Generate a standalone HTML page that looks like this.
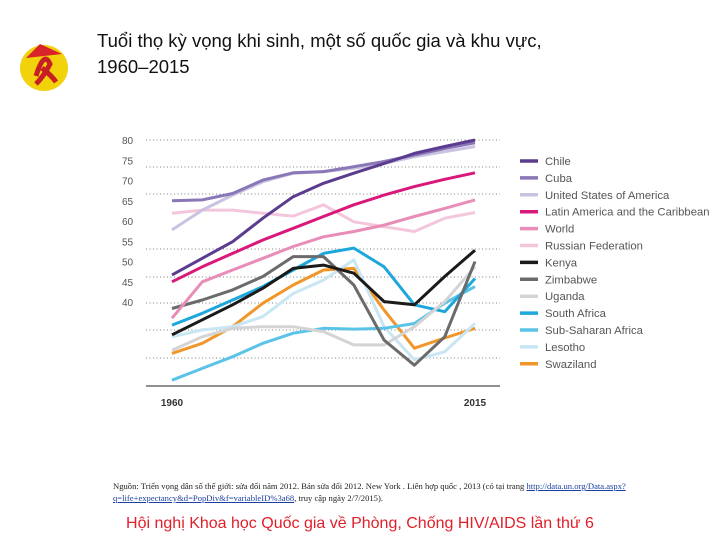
<!DOCTYPE html>
<html><head><meta charset="utf-8"><style>
body{margin:0;width:720px;height:540px;background:#fff;position:relative;overflow:hidden;font-family:"Liberation Sans",sans-serif}
#title{position:absolute;left:97px;top:28px;font-size:18.5px;line-height:26px;color:#111}
#src{position:absolute;left:113px;top:480px;font-family:"Liberation Serif",serif;font-size:8.6px;line-height:12px;color:#222;width:540px}
#src a{color:#1a3fa0;text-decoration:underline}
#foot{position:absolute;left:0;width:720px;top:515px;text-align:center;font-size:16px;color:#e0202a}
</style></head><body>
<svg style="position:absolute;left:0;top:20px" width="100" height="80">
<ellipse cx="44" cy="48" rx="24" ry="23" fill="#f2d20a"/>
<path d="M26 38 L40 24 L62 34 Z" fill="#d8232a"/>
<path d="M36 56 Q44 30 50 44 Q44 56 36 64 M42 48 Q52 56 56 62" stroke="#c81e25" stroke-width="5" fill="none"/>
</svg>
<div id="title">Tuổi thọ kỳ vọng khi sinh, một số quốc gia và khu vực,<br>1960–2015</div>
<svg id="chart" style="position:absolute;left:0;top:0" width="720" height="470"></svg>
<div id="src">Nguồn: Triển vọng dân số thế giới: sửa đổi năm 2012. Bản sửa đổi 2012. New York . Liên hợp quốc , 2013 (có tại trang <a>http://data.un.org/Data.aspx?q=life+expectancy&amp;d=PopDiv&amp;f=variableID%3a68</a>, truy cập ngày 2/7/2015).</div>
<div id="foot">Hội nghị Khoa học Quốc gia về Phòng, Chống HIV/AIDS lần thứ 6</div>
<script>
const seriesNames=["Chile","Cuba","United States of America","Latin America and the Caribbean","World","Russian Federation","Kenya","Zimbabwe","Uganda","South Africa","Sub-Saharan Africa","Lesotho","Swaziland"];
const seriesColors=["#5b3c8f","#8a77b8","#c9c2e0","#d9197a","#e88cb8","#f4c6dc","#1a1a1a","#6b6b6b","#d4d4d4","#1ea7dc","#5bc3e8","#c8e6f3","#f0962a"];
const chile=[46.7,50.8,54.9,60.7,66.0,69.3,71.8,74.2,76.7,78.4,80];
const cuba=[65.0,65.2,66.8,70.1,71.9,72.2,73.4,74.7,76.3,77.9,79.3];
const usa=[57.8,62.7,66.4,69.7,71.8,72.2,73.0,74.2,75.9,77.1,78.4];
const latam=[45,48.7,52,55.3,58.2,61.1,64,66.4,68.5,70.3,71.9];
const world=[36,45,47.9,50.8,53.7,56.1,57.4,59,61.1,63.1,65.2];
const russia=[61.9,62.7,62.7,61.9,61.2,64,59.8,58.6,57.4,60.7,62.1];
const kenya=[31.9,35.6,39.3,43.4,48.3,49.1,47.1,40.1,39.3,46.3,52.8];
const zimbabwe=[38.4,40.5,43,46.3,51.2,51.2,44.2,30.6,24.4,31.4,50];
const uganda=[28.1,31.4,33.5,33.9,33.9,32.7,29.4,29.4,33.9,40.1,48.7];
const southAfrica=[34.3,37.2,40.5,43.8,47.9,52,53.3,48.7,39.3,37.6,45.8];
const ssa=[20.7,23.6,26.5,29.8,32.3,33.5,33.3,33.5,34.7,39.7,43.8];
const lesotho=[31.4,33.1,33.9,36.4,42.1,45.4,50.4,33.9,25.7,27.7,34.7];
const swaziland=[27.3,29.8,33.9,39.7,44.2,47.9,48.3,38,28.6,31.1,33.5];
const yTicks=[80,75,70,65,60,55,50,45,40];
const xLabels=["1960","2015"];
const allSeries=[chile,cuba,usa,latam,world,russia,kenya,zimbabwe,uganda,southAfrica,ssa,lesotho,swaziland];
const NS="http://www.w3.org/2000/svg";
const svg=document.getElementById('chart');
const xS=i=>172+i*30.3;
const yS=v=>140+(80-v)*4.05;
function mk(t,a){const e=document.createElementNS(NS,t);for(const k in a)e.setAttribute(k,a[k]);svg.appendChild(e);return e;}
[140,167,194,249,277,303,330,358].forEach(y=>{const g=mk('line',{x1:146,x2:500,y1:y,y2:y,stroke:'#555','stroke-width':0.8,'stroke-dasharray':'1 2.5'});

});
yTicks.forEach(v=>{const t=mk('text',{x:122,y:yS(v)+4,'font-size':10,fill:'#555'});t.textContent=v;

});
const ax=mk('line',{x1:146,x2:500,y1:386,y2:386,stroke:'#222','stroke-width':1});


[0,10].forEach((i,k)=>{const t=mk('text',{x:xS(i),y:406,'font-size':10,fill:'#333','text-anchor':'middle','font-weight':'bold'});t.textContent=xLabels[k];

});
for(let s=allSeries.length-1;s>=0;s--){const d=allSeries[s].map((v,i)=>(i?'L':'M')+xS(i).toFixed(1)+' '+yS(v).toFixed(1)).join(' ');
const p=mk('path',{d:d,fill:'none',stroke:seriesColors[s],'stroke-width':3,'stroke-linejoin':'round'});

}
seriesNames.forEach((n,i)=>{const y=161+i*16.9;
const r=mk('line',{x1:520,x2:538,y1:y,y2:y,stroke:seriesColors[i],'stroke-width':3.5});


const t=mk('text',{x:545,y:y+4,'font-size':11.3,fill:'#555'});t.textContent=n;

});
</script>
</body></html>
